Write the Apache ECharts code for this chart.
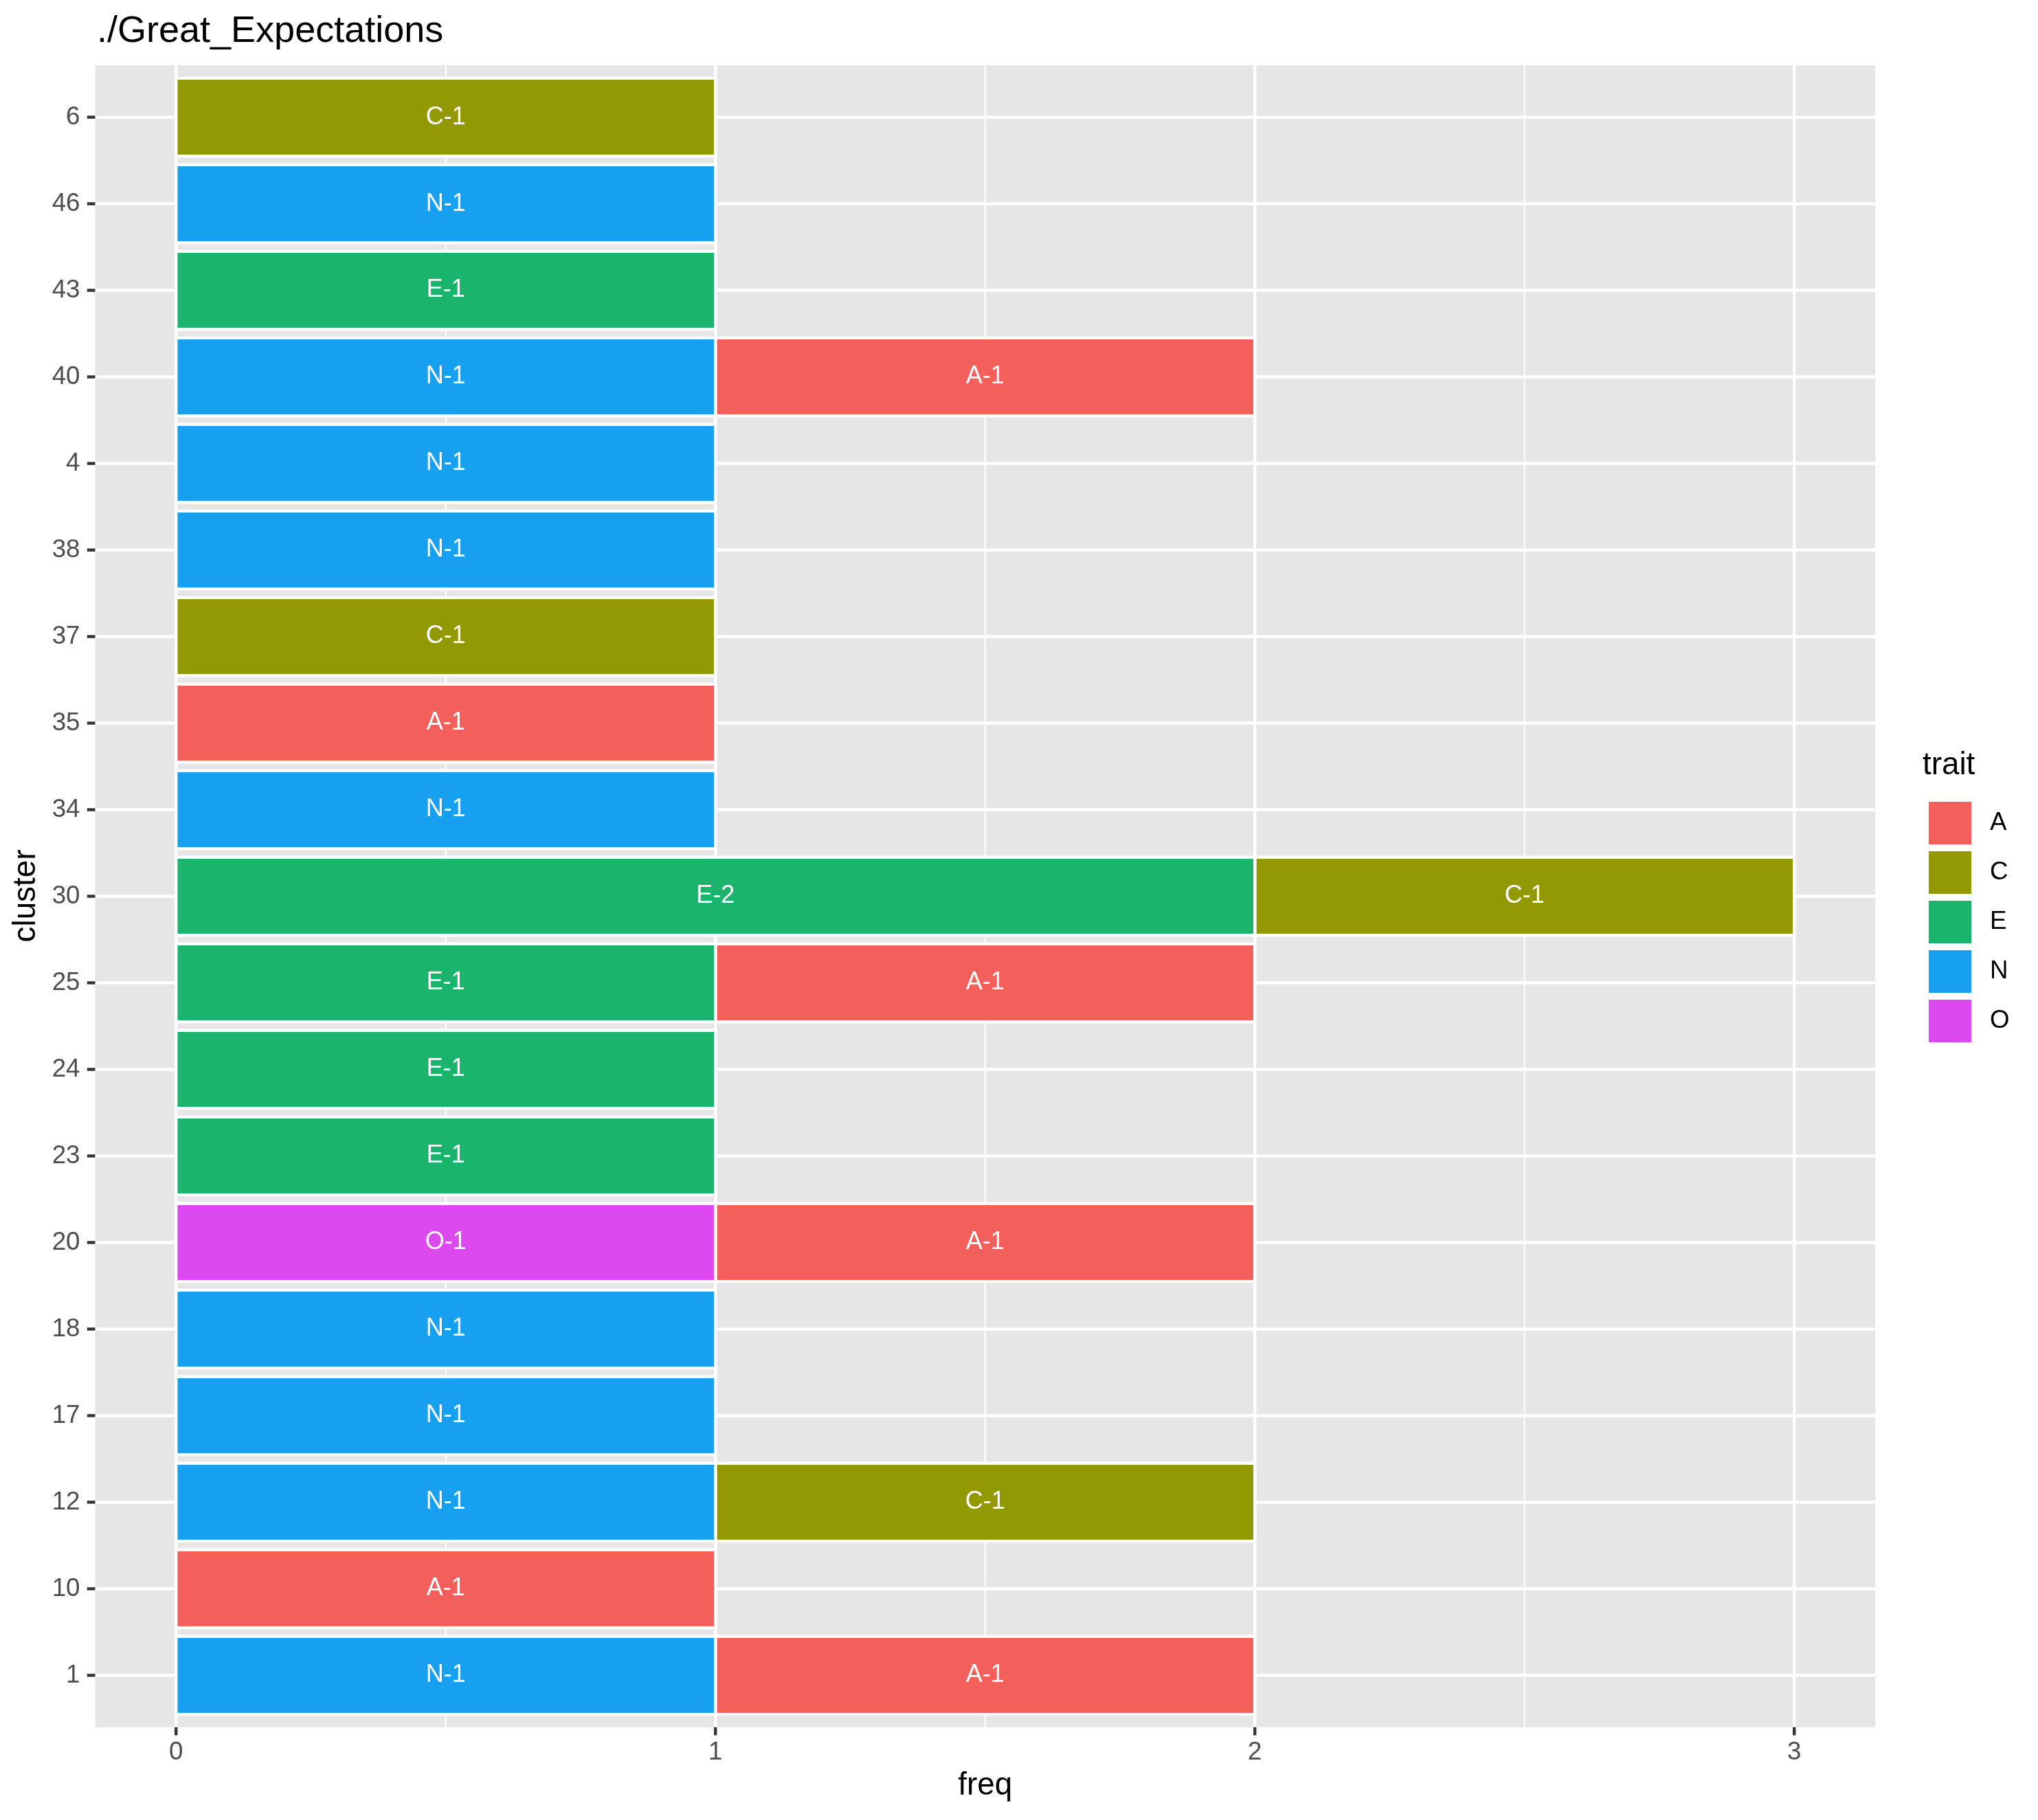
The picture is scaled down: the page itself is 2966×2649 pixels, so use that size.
<!DOCTYPE html>
<html>
<head>
<meta charset="utf-8">
<script src="https://cdn.jsdelivr.net/npm/echarts@6/dist/echarts.min.js"></script>
<style>html,body{margin:0;padding:0;background:#fff}#c{width:2966px;height:2649px}</style>
</head>
<body>
<div id="c"></div>
<script>
// ---- data ----
const clusters = ['1','10','12','17','18','20','23','24','25','30','34','35','37','38','4','40','43','46','6'];
const traitA = [1,1,0,0,0,1,0,0,1,0,0,1,0,0,0,1,0,0,0];
const traitC = [0,0,1,0,0,0,0,0,0,1,0,0,1,0,0,0,0,0,1];
const traitE = [0,0,0,0,0,0,1,1,1,2,0,0,0,0,0,0,1,0,0];
const traitN = [1,0,1,1,1,0,0,0,0,0,1,0,0,1,1,1,0,1,0];
const traitO = [0,0,0,0,0,1,0,0,0,0,0,0,0,0,0,0,0,0,0];
const xTicks = [0, 1, 2, 3];
const xMinor = [0.5, 1.5, 2.5];
const legendTraits = ['A','C','E','N','O'];
const stackOrder = ['O','N','E','C','A'];

const traitValues = {A: traitA, C: traitC, E: traitE, N: traitN, O: traitO};
const traitColors = {A:'#F35F5B', C:'#939903', E:'#1BB46D', N:'#179FF0', O:'#DC4AEF'};
const FONT = '"Liberation Sans", Arial, Helvetica, sans-serif';

// stacking (left to right: O, N, E, C, A)
const offsets = clusters.map(() => 0);
const seriesData = {};
const seriesLabels = {};
stackOrder.forEach(t => {
  seriesData[t] = [];
  seriesLabels[t] = [];
  traitValues[t].forEach((v, i) => {
    if (v > 0) {
      seriesData[t].push([offsets[i], offsets[i] + v, i]);
      seriesLabels[t].push(t + '-' + v);
      offsets[i] += v;
    }
  });
});

const yMin = -0.6, yMax = clusters.length - 1 + 0.6;
const xMin = -0.15, xMax = 3.15;
const TICK_LEN = 11.7, LINE_W = 4.4;

const gridData = [];
xTicks.forEach(x => gridData.push([x, 0, 0]));
xMinor.forEach(x => gridData.push([x, 0, 1]));
clusters.forEach((c, i) => gridData.push([0, i, 2]));

function renderGrid(params, api) {
  const kind = api.value(2);
  if (kind === 2) {
    const y = api.value(1);
    const a = api.coord([xMin, y]), b = api.coord([xMax, y]);
    return {type:'group', children:[
      {type:'line', shape:{x1:a[0], y1:a[1], x2:b[0], y2:b[1]}, style:{stroke:'#fff', lineWidth:LINE_W}},
      {type:'line', shape:{x1:a[0]-TICK_LEN, y1:a[1], x2:a[0], y2:a[1]}, style:{stroke:'#333', lineWidth:LINE_W}}
    ]};
  }
  const x = api.value(0);
  const a = api.coord([x, yMin]), b = api.coord([x, yMax]);
  const children = [
    {type:'line', shape:{x1:a[0], y1:a[1], x2:b[0], y2:b[1]}, style:{stroke:'#fff', lineWidth: kind === 0 ? LINE_W : LINE_W/2}}
  ];
  if (kind === 0) {
    children.push({type:'line', shape:{x1:a[0], y1:a[1], x2:a[0], y2:a[1]+TICK_LEN}, style:{stroke:'#333', lineWidth:LINE_W}});
  }
  return {type:'group', children};
}

function makeRender(t) {
  return function (params, api) {
    const s = api.value(0), e = api.value(1), yi = api.value(2);
    const p0 = api.coord([s, yi]), p1 = api.coord([e, yi]);
    const h = api.size([0, 0.9])[1];
    return {
      type: 'group',
      children: [
        {type:'rect', shape:{x:p0[0], y:p0[1]-h/2, width:p1[0]-p0[0], height:h},
         style:{fill: traitColors[t], stroke:'#fff', lineWidth:LINE_W}},
        {type:'text', x:(p0[0]+p1[0])/2, y:p0[1],
         style:{text: seriesLabels[t][params.dataIndex], fill:'#fff', font:'36px ' + FONT, align:'center', verticalAlign:'middle'}}
      ]
    };
  };
}

const series = [{
  type:'custom', name:'grid', renderItem: renderGrid, data: gridData, z:1, silent:true, clip:false,
  encode:{x:0, y:1}
}];
legendTraits.forEach(t => {
  series.push({
    type:'custom', name:t, renderItem: makeRender(t), data: seriesData[t], z:2,
    itemStyle:{color: traitColors[t]}, encode:{x:[0,1], y:2}
  });
});

const chart = echarts.init(document.getElementById('c'), null, {renderer:'canvas'});
chart.setOption({
  animation:false,
  backgroundColor:'#fff',
  title:{text:'./Great_Expectations', left:136, top:14, textStyle:{fontFamily:FONT, fontSize:54, fontWeight:'normal', color:'#000'}},
  grid:{left:138.5, top:95, width:2590.5, height:2419, show:true, backgroundColor:'#E6E6E6', borderWidth:0, containLabel:false},
  xAxis:{
    type:'value', min:xMin, max:xMax,
    axisLine:{show:false},
    splitLine:{show:false},
    axisTick:{show:false},
    axisLabel:{customValues: xTicks, margin:18, color:'#4D4D4D', fontSize:36.7, fontFamily:FONT, formatter: v => String(v)},
    name:'freq', nameLocation:'middle', nameGap:62,
    nameTextStyle:{fontFamily:FONT, fontSize:45.8, color:'#000'}
  },
  yAxis:{
    type:'value', min:yMin, max:yMax,
    axisLine:{show:false},
    splitLine:{show:false},
    axisTick:{show:false},
    axisLabel:{customValues: clusters.map((c,i)=>i), margin:22, color:'#4D4D4D', fontSize:36.7, fontFamily:FONT,
      formatter: v => clusters[Math.round(v)]}
  },
  legend:{
    data: legendTraits, orient:'vertical', left:2802, top:1162,
    itemWidth:62, itemHeight:62, itemGap:10, icon:'rect',
    textStyle:{fontFamily:FONT, fontSize:36.7, color:'#000', padding:[0,0,0,22]},
    itemStyle:{borderColor:'#fff', borderWidth:0}
  },
  graphic:[
    {type:'text', x:38, y:1304, rotation:Math.PI/2,
     style:{text:'cluster', font:'45.8px ' + FONT, fill:'#000', align:'center', verticalAlign:'middle'}},
    {type:'text', x:2798, y:1114,
     style:{text:'trait', font:'45.8px ' + FONT, fill:'#000', align:'left', verticalAlign:'middle'}}
  ],
  series: series
});
</script>
</body>
</html>
